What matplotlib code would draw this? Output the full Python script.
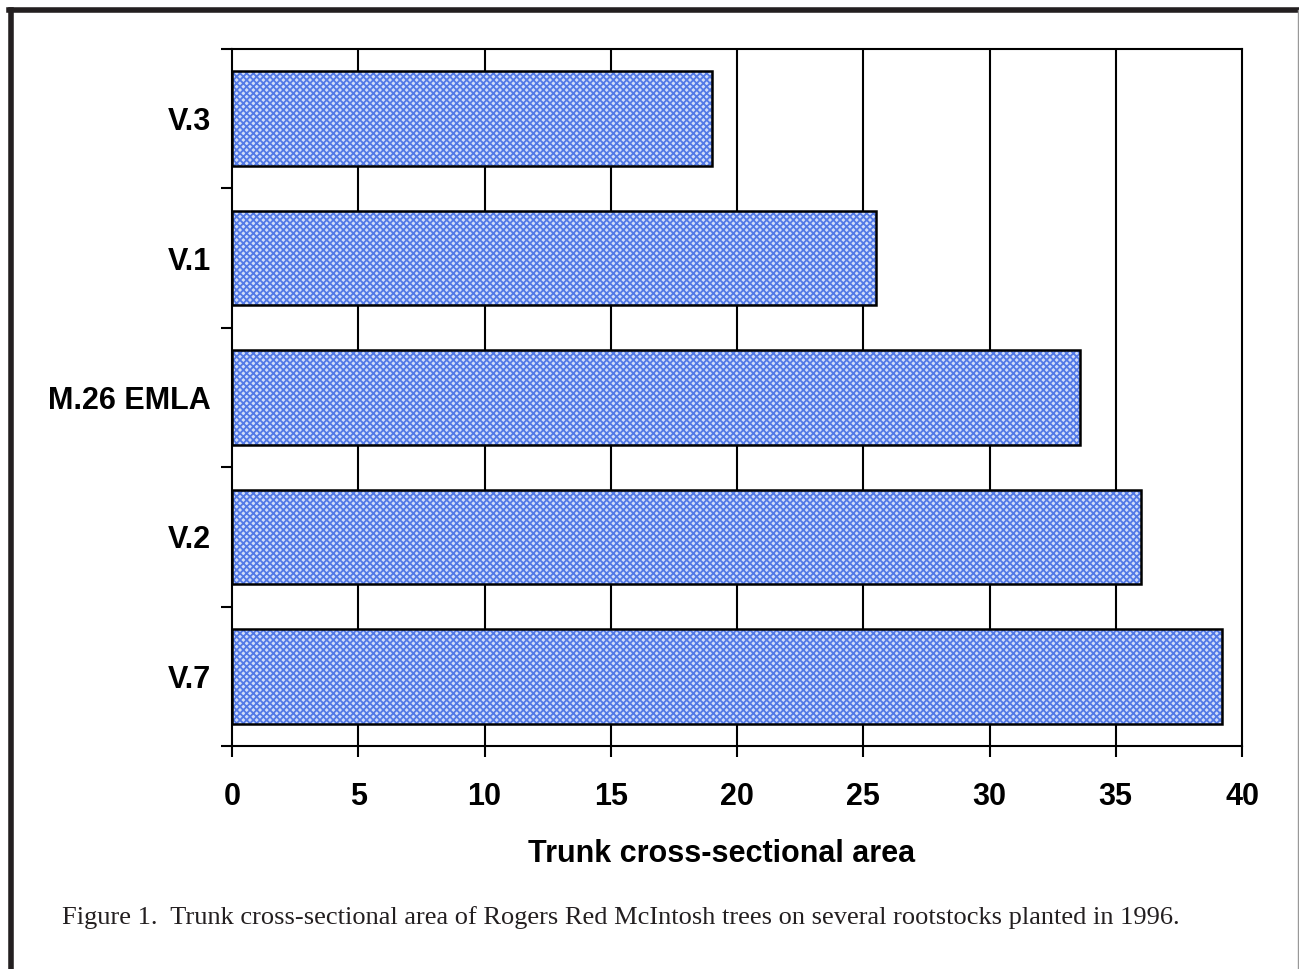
import matplotlib.pyplot as plt
from matplotlib.lines import Line2D

# rootstocks, top to bottom
rootstocks = ['V.3', 'V.1', 'M.26 EMLA', 'V.2', 'V.7']
tcsa = [19.0, 25.5, 33.6, 36.0, 39.2]
xticks = [0, 5, 10, 15, 20, 25, 30, 35, 40]

plt.rcParams['hatch.linewidth'] = 1.3

fig = plt.figure(figsize=(12.99, 9.69), dpi=100)
ax = fig.add_axes([232/1299, 1 - 746/969, (1242 - 232)/1299, (746 - 49)/969])

pos = list(range(len(rootstocks)))
# patterned fill, then the black outline on top
ax.barh(pos, tcsa, height=0.68, color='#d2ddf9', edgecolor='#5279e6',
        linewidth=0, hatch='xxxxx', zorder=3)
ax.barh(pos, tcsa, height=0.68, fill=False, edgecolor='black',
        linewidth=1.8, zorder=4)

ax.set_xlim(0, 40)
ax.set_ylim(len(rootstocks) - 0.5, -0.5)

# vertical grid only
for x in xticks[1:-1]:
    ax.axvline(x, color='black', lw=1.5, zorder=1)

for s in ax.spines.values():
    s.set_linewidth(1.5)
    s.set_color('black')

ax.set_xticks(xticks)
ax.set_xticklabels([str(v) for v in xticks], fontsize=22, fontweight='bold',
                   family='Liberation Sans')
ax.tick_params(axis='x', direction='out', length=8, width=1.5, pad=18)

# category separators as major ticks, names on minor ticks
ax.set_yticks([p - 0.5 for p in pos] + [len(pos) - 0.5])
ax.set_yticklabels([])
ax.tick_params(axis='y', which='major', direction='out', length=8, width=1.5)
ax.set_yticks(pos, minor=True)
ax.set_yticklabels(rootstocks, minor=True, fontsize=22, fontweight='bold',
                   family='Liberation Sans')
ax.tick_params(axis='y', which='minor', length=0, pad=15)

ax.set_xlabel('Trunk cross-sectional area', fontsize=22, fontweight='bold',
              family='Liberation Sans')
ax.xaxis.set_label_coords(0.485, -0.133)

fig.text(62/1299, 1 - 918/969,
         'Figure 1.  Trunk cross-sectional area of Rogers Red McIntosh trees '
         'on several rootstocks planted in 1996.',
         fontsize=19, family='Liberation Serif', color='#231f20',
         va='center', ha='left')

# page frame
fig.add_artist(Line2D([10.5/1299, 10.5/1299], [0, 1 - 9.5/969],
                      transform=fig.transFigure, color='#231f20', lw=4))
fig.add_artist(Line2D([8.5/1299, 1], [1 - 9.5/969, 1 - 9.5/969],
                      transform=fig.transFigure, color='#231f20', lw=4))
fig.add_artist(Line2D([1297.5/1299, 1297.5/1299], [0, 1 - 9.5/969],
                      transform=fig.transFigure, color='#999999', lw=1))

fig.savefig('out.png', dpi=100)
